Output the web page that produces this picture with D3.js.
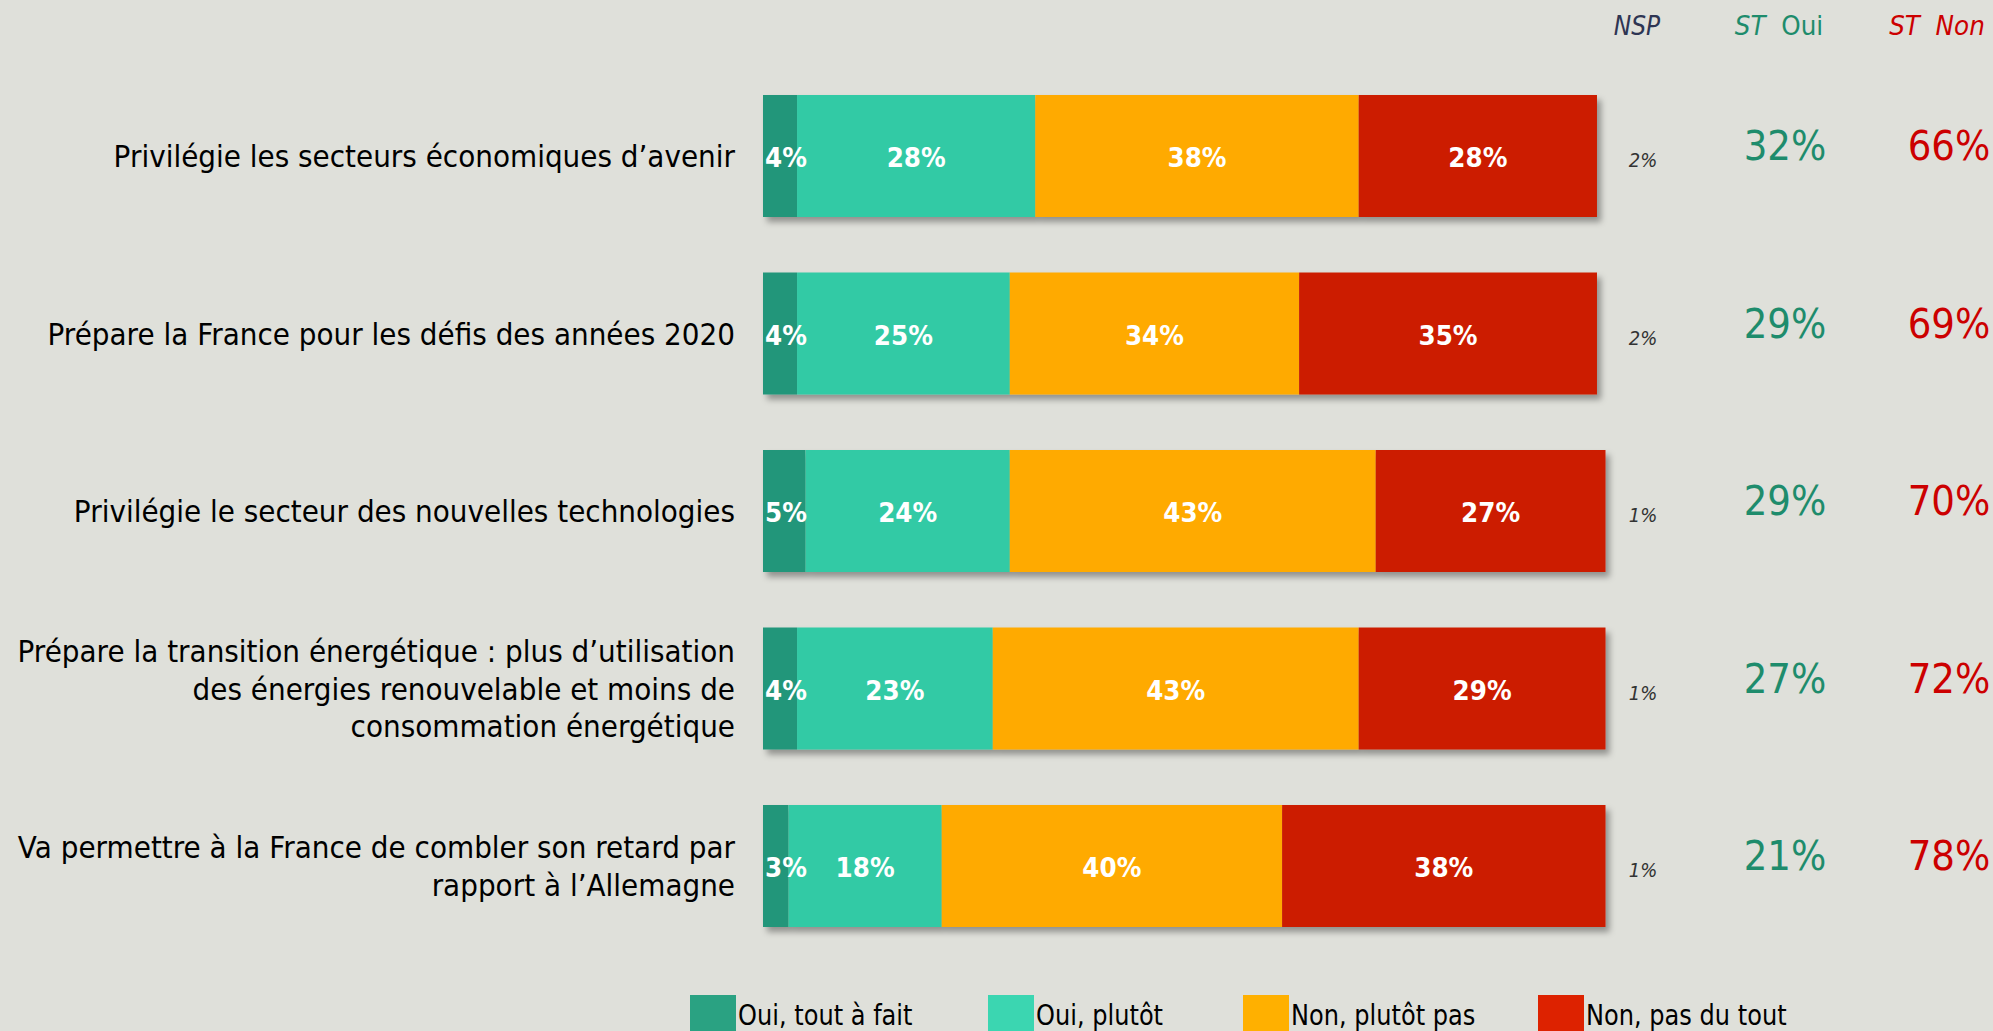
<!DOCTYPE html>
<html lang="fr">
<head>
  <meta charset="UTF-8">
  <title>Barres empilées</title>
  <style>
    body {
      margin: 0;
      overflow: hidden;
      background: #dfe0da;
      font-family: "DejaVu Sans", sans-serif;
    }
    svg { display: block; }
  </style>
</head>
<body>
  <svg width="1993" height="1031"></svg>

  <script src="https://d3js.org/d3.v7.min.js"></script>
  <script>
    // données
    const categories = [
      "Privilégie les secteurs économiques d’avenir",
      "Prépare la France pour les défis des années 2020",
      "Privilégie le secteur des nouvelles technologies",
      "Prépare la transition énergétique : plus d’utilisation\ndes énergies renouvelable et moins de\nconsommation énergétique",
      "Va permettre à la France de combler son retard par\nrapport à l’Allemagne"
    ];
    const seriesNames = ["Oui, tout à fait", "Oui, plutôt", "Non, plutôt pas", "Non, pas du tout"];
    const toutAFait = [4, 4, 5, 4, 3];
    const plutot = [28, 25, 24, 23, 18];
    const plutotPas = [38, 34, 43, 43, 40];
    const pasDuTout = [28, 35, 27, 29, 38];
    const nsp = [2, 2, 1, 1, 1];
    const stOui = [32, 29, 29, 27, 21];
    const stNon = [66, 69, 70, 72, 78];

    const barColors = ["#21967a", "#33caa5", "#ffaa00", "#cc1e00"];
    const legendColors = ["#2aa282", "#3bd6b1", "#ffb000", "#dd2200"];

    const svg = d3.select("svg");
    const squish = 0.93; // texte étroit

    const x = d3.scaleLinear().domain([0, 100]).range([763, 1614]);
    const y = d3.scalePoint().domain(d3.range(categories.length)).range([156, 866]);
    const barH = 122;

    const defs = svg.append("defs");
    const f = defs.append("filter").attr("id", "shadow")
      .attr("x", "-5%").attr("y", "-10%").attr("width", "115%").attr("height", "130%");
    f.append("feDropShadow").attr("dx", 4).attr("dy", 5).attr("stdDeviation", 3)
      .attr("flood-color", "#000").attr("flood-opacity", 0.35);

    const rows = categories.map((c, i) => ({
      i, label: c,
      vals: [toutAFait[i], plutot[i], plutotPas[i], pasDuTout[i]]
    }));

    const row = svg.selectAll("g.row").data(rows).join("g").attr("class", "row");

    // barres
    row.each(function(d) {
      const g = d3.select(this);
      let acc = 0;
      const segs = d.vals.map((v, k) => { const s = { k, v, x0: acc }; acc += v; return s; });
      const bg = g.append("g").attr("filter", "url(#shadow)");
      bg.selectAll("rect").data(segs).join("rect")
        .attr("x", s => x(s.x0))
        .attr("y", y(d.i) - barH / 2)
        .attr("width", s => x(s.x0 + s.v) - x(s.x0))
        .attr("height", barH)
        .attr("fill", s => barColors[s.k]);
      g.selectAll("text.val").data(segs).join("text")
        .attr("class", "val")
        .attr("transform", s => s.k === 0
          ? `translate(${x(0) + 2},${y(d.i) + 11}) scale(0.95,1)`
          : `translate(${x(s.x0 + s.v / 2)},${y(d.i) + 11}) scale(0.95,1)`)
        .attr("text-anchor", s => s.k === 0 ? "start" : "middle")
        .attr("fill", "#fff")
        .attr("font-weight", "bold")
        .attr("font-size", 26)
        .text(s => s.v + "%");
    });

    // libellés
    row.each(function(d) {
      const lines = d.label.split("\n");
      const lh = 37.5;
      const y0 = y(d.i) + 11 - (lines.length - 1) * lh / 2;
      d3.select(this).selectAll("text.lab").data(lines).join("text")
        .attr("class", "lab")
        .attr("transform", (l, j) => `translate(735,${y0 + j * lh}) scale(${squish},1)`)
        .attr("text-anchor", "end")
        .attr("font-size", 30)
        .attr("fill", "#000")
        .text(l => l);
    });

    // colonnes de droite
    const colNsp = 1643, colOui = 1785, colNon = 1949;
    row.append("text")
      .attr("transform", d => `translate(${colNsp},${y(d.i) + 11}) scale(0.9,1)`)
      .attr("text-anchor", "middle")
      .attr("font-size", 20)
      .attr("font-style", "italic")
      .attr("fill", "#333")
      .text(d => nsp[d.i] + "%");
    row.append("text")
      .attr("transform", d => `translate(${colOui},${y(d.i) + 4}) scale(0.93,1)`)
      .attr("text-anchor", "middle")
      .attr("font-size", 40)
      .attr("fill", "#1e8c6c")
      .text(d => stOui[d.i] + "%");
    row.append("text")
      .attr("transform", d => `translate(${colNon},${y(d.i) + 4}) scale(0.93,1)`)
      .attr("text-anchor", "middle")
      .attr("font-size", 40)
      .attr("fill", "#cc0000")
      .text(d => stNon[d.i] + "%");

    // en-têtes
    const head = svg.append("g").attr("font-size", 26);
    head.append("text")
      .attr("transform", `translate(${colNsp - 6},35) scale(0.9,1)`)
      .attr("text-anchor", "middle").attr("font-style", "italic").attr("fill", "#2e3553")
      .text("NSP");
    const ho = head.append("text")
      .attr("transform", `translate(${colOui - 6},35) scale(0.95,1)`)
      .attr("text-anchor", "middle").attr("fill", "#1e8c6c");
    ho.append("tspan").attr("font-style", "italic").text("ST");
    ho.append("tspan").text("\u00a0 Oui");
    head.append("text")
      .attr("transform", `translate(${colNon - 12},35) scale(0.95,1)`)
      .attr("text-anchor", "middle").attr("font-style", "italic").attr("fill", "#cc0000")
      .text("ST\u00a0 Non");

    // légende
    const legX = [690, 988, 1243, 1538];
    const leg = svg.append("g").selectAll("g").data(seriesNames).join("g")
      .attr("transform", (d, k) => `translate(${legX[k]},995)`);
    leg.append("rect")
      .attr("width", 46).attr("height", 50)
      .attr("fill", (d, k) => legendColors[k]);
    leg.append("text")
      .attr("transform", `translate(48,30) scale(0.86,1)`)
      .attr("font-size", 28)
      .attr("fill", "#000")
      .text(d => d);
  </script>
</body>
</html>
